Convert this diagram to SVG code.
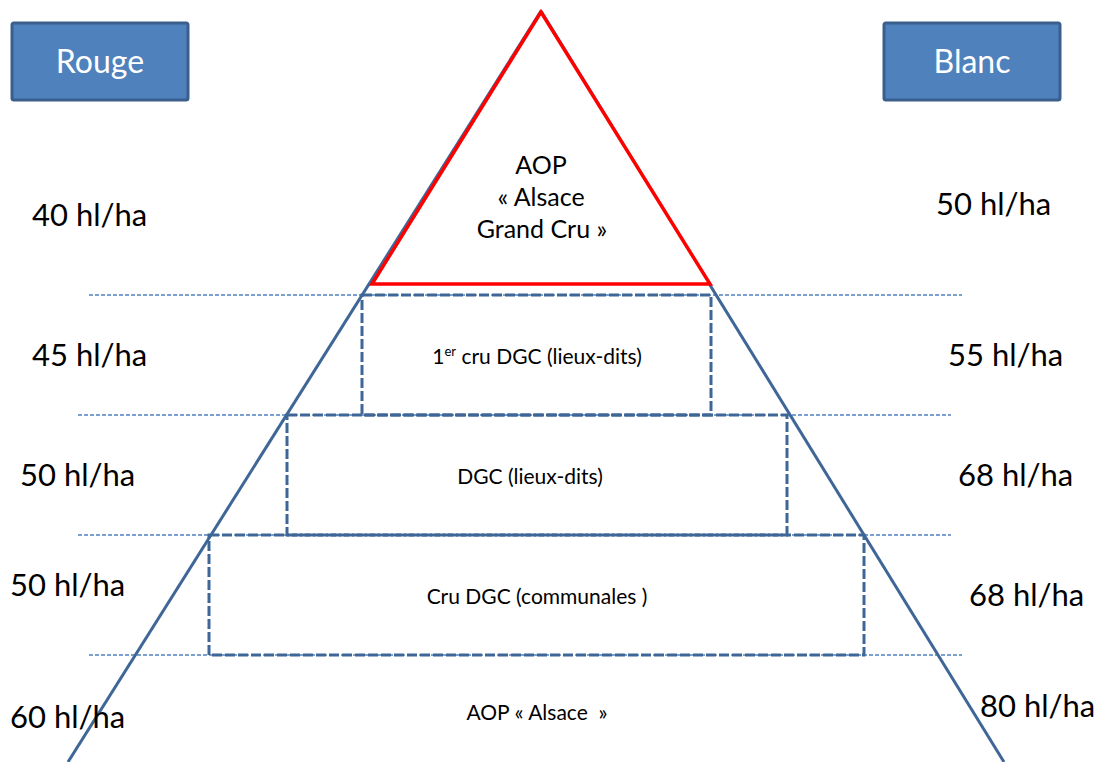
<svg xmlns="http://www.w3.org/2000/svg" width="1101" height="762" viewBox="0 0 1101 762">
<style>
.box{fill:#4f81bd;stroke:#3a5f8c;stroke-width:3}
.boxt{font-family:Lato,"Open Sans",sans-serif;font-size:32px;fill:#ffffff;text-anchor:middle}
.lbl{font-family:Lato,"Open Sans",sans-serif;font-size:31px;fill:#000}
.in{font-family:Lato,"Open Sans",sans-serif;fill:#000;text-anchor:middle}
.dot{stroke:#4f81bd;stroke-width:1.3;stroke-dasharray:4 2;fill:none}
.dash{stroke:#3e6697;stroke-width:3;stroke-dasharray:10 3;fill:none}
.side{stroke:#3e6697;stroke-width:3;fill:none}
</style>
<rect width="1101" height="762" fill="#ffffff"/>
<g id="connectors">
<line class="dot" x1="89" y1="295" x2="962" y2="295"/>
<line class="dot" x1="78" y1="415" x2="951" y2="415"/>
<line class="dot" x1="78" y1="535" x2="951" y2="535"/>
<line class="dot" x1="89" y1="655" x2="962" y2="655"/>
<line class="side" x1="541" y1="11" x2="68" y2="762"/>
<line class="side" x1="541" y1="11" x2="1004" y2="762"/>
</g>
<g id="rouge">
<rect class="box" x="12" y="23" width="176" height="77" rx="2"/>
<text class="boxt" x="100" y="73">Rouge</text>
</g>
<g id="blanc">
<rect class="box" x="884" y="23" width="176" height="77" rx="2"/>
<text class="boxt" x="972" y="73">Blanc</text>
</g>
<g id="grandcru">
<polygon points="541,12 372,284 710,284" fill="#ffffff" stroke="#ff0000" stroke-width="3.5" stroke-linejoin="miter"/>
<text class="in" font-size="25" x="541" y="174">AOP</text>
<text class="in" font-size="25" x="541" y="206">« Alsace</text>
<text class="in" font-size="25" x="542" y="238">Grand Cru »</text>
</g>
<g id="premiercru">
<rect class="dash" x="362" y="295" width="349" height="120"/>
<text class="in" font-size="21" x="537" y="364">1<tspan font-size="13" dy="-8">er</tspan><tspan dy="8"> cru DGC (lieux-dits)</tspan></text>
</g>
<g id="dgc">
<rect class="dash" x="287" y="415" width="500" height="120"/>
<text class="in" font-size="21" x="530" y="484">DGC (lieux-dits)</text>
</g>
<g id="crudgc">
<rect class="dash" x="209" y="535" width="655" height="120"/>
<text class="in" font-size="21" x="537" y="604">Cru DGC (communales )</text>
</g>
<g id="aop">
<text class="in" font-size="21" x="537" y="720" xml:space="preserve">AOP « Alsace  »</text>
</g>
<g id="labels">
<text class="lbl" x="32" y="226">40 hl/ha</text>
<text class="lbl" x="936" y="215">50 hl/ha</text>
<text class="lbl" x="32" y="366">45 hl/ha</text>
<text class="lbl" x="948" y="366">55 hl/ha</text>
<text class="lbl" x="20" y="486">50 hl/ha</text>
<text class="lbl" x="958" y="486">68 hl/ha</text>
<text class="lbl" x="10" y="596">50 hl/ha</text>
<text class="lbl" x="969" y="606">68 hl/ha</text>
<text class="lbl" x="10" y="728">60 hl/ha</text>
<text class="lbl" x="980" y="717">80 hl/ha</text>
</g>
</svg>
